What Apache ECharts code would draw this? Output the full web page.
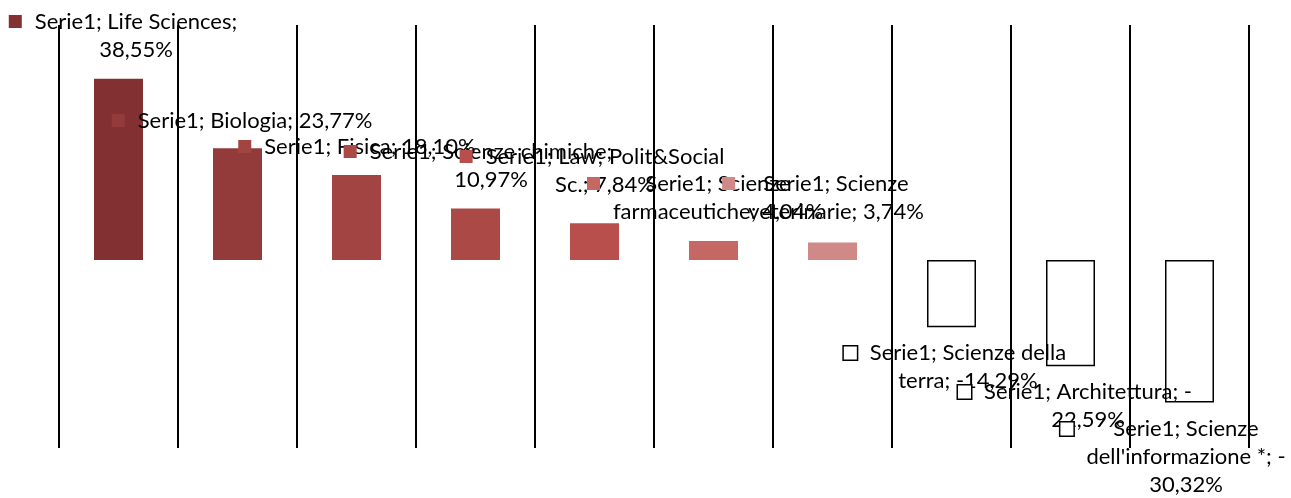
<!DOCTYPE html>
<html><head><meta charset="utf-8">
<script src="https://cdn.jsdelivr.net/npm/echarts@6/dist/echarts.min.js"></script>
<style>html,body{margin:0;padding:0;background:#fff}#c{width:1291px;height:498px}</style>
</head><body><div id="c"></div>
<script>
// ---- data ----
const seriesName = 'Serie1';
const categories = ['Life Sciences', 'Biologia', 'Fisica', 'Scienze chimiche', 'Law; Polit&Social Sc.',
  'Scienze farmaceutiche', 'Scienze veterinarie', 'Scienze della terra', 'Architettura', "Scienze dell'informazione *"];
const values = [38.55, 23.77, 18.10, 10.97, 7.84, 4.04, 3.74, -14.29, -22.59, -30.32];

// ---- styles / layout ----
const barColors = ['#833033', '#933b3b', '#a24441', '#ab4946', '#b94f4c', '#c56864', '#cf8a87', '#ffffff', '#ffffff', '#ffffff'];
const labelCenterX = [136, 255, 370, 491, 605, 718, 836, 968, 1088, 1186];
const labelFirstLineY = [21.5, 120.5, 146.5, 151.5, 156.5, 183.5, 183.5, 353, 392, 429];
const labelWrapWidth = [230, 300, 300, 260, 245, 228, 185, 215, 230, 215];
const FONT = 'Lato', FONT_SIZE = 22, LINE_H = 28, SQ = 13, GAP = 13;

const ctx = document.createElement('canvas').getContext('2d');
ctx.font = FONT_SIZE + 'px ' + FONT;
const tw = s => ctx.measureText(s.replace(/\s+$/, '')).width;
function wrap(text, maxW) {
  const toks = text.split(/(?<=[ \-])/);
  const lines = []; let cur = '';
  for (const t of toks) {
    if (cur && tw(cur + t) > maxW) { lines.push(cur.replace(/\s+$/, '')); cur = t; }
    else cur += t;
  }
  if (cur) lines.push(cur.replace(/\s+$/, ''));
  return lines;
}
const fmt = v => v.toFixed(2).replace('.', ',') + '%';

const chart = echarts.init(document.getElementById('c'));
const baseOption = {
  animation: false,
  backgroundColor: '#fff',
  grid: { left: 59, right: 42, top: 25, bottom: 50 },
  xAxis: {
    type: 'category', data: categories,
    axisLine: { show: false }, axisTick: { show: false }, axisLabel: { show: false },
    splitLine: { show: true, interval: 0, lineStyle: { color: '#000', width: 2 } }
  },
  yAxis: { type: 'value', min: -40, max: 50, show: false },
  series: [{ type: 'bar', name: seriesName, data: values, barWidth: 49 }]
};
chart.setOption(baseOption);

const rich = {};
const labelTexts = [];
const items = values.map((v, i) => {
  const neg = v < 0;
  const lines = wrap(seriesName + '; ' + categories[i] + '; ' + fmt(v), labelWrapWidth[i]);
  const W = Math.max(...lines.map(tw));
  rich['sq' + i] = { width: SQ, height: SQ, backgroundColor: barColors[i],
    borderColor: neg ? '#000' : 'transparent', borderWidth: neg ? 1.5 : 0 };
  rich['t' + i] = { width: W, align: 'center', fontFamily: FONT, fontSize: FONT_SIZE, lineHeight: LINE_H, color: '#000' };
  labelTexts.push(lines.map((l, k) => (k === 0 ? '{sq' + i + '|}{g|}' : '{p|}') + '{t' + i + '|' + l + '}').join('\n'));
  const c = chart.convertToPixel({ seriesIndex: 0 }, [i, v / 2]);
  const left = labelCenterX[i] - W / 2 - SQ - GAP;
  const top = labelFirstLineY[i] - LINE_H / 2;
  return {
    value: v,
    itemStyle: { color: barColors[i], borderColor: neg ? '#000' : barColors[i], borderWidth: neg ? 1.5 : 0 },
    label: { offset: [left - c[0], top - c[1]] }
  };
});
rich.g = { width: GAP, lineHeight: LINE_H };
rich.p = { width: SQ + GAP, lineHeight: LINE_H };

chart.setOption({
  series: [{
    data: items,
    label: {
      show: true, position: 'inside', align: 'left', verticalAlign: 'top',
      fontFamily: FONT, fontSize: FONT_SIZE, lineHeight: LINE_H, color: '#000', textBorderWidth: 0,
      formatter: p => labelTexts[p.dataIndex],
      rich: rich
    }
  }]
});
</script></body></html>
